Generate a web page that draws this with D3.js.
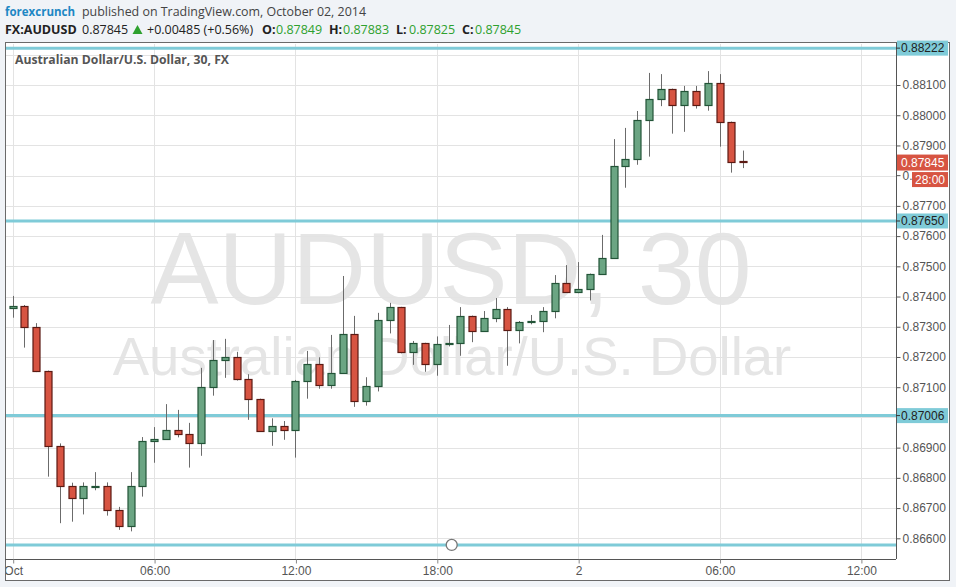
<!DOCTYPE html>
<html><head><meta charset="utf-8">
<script src="https://cdn.jsdelivr.net/npm/d3@7"></script>
<style>
html,body{margin:0;padding:0;background:#f0f3f7;}
svg{display:block;}
</style></head>
<body>
<svg id="c" width="956" height="587"></svg>
<script>
// ---- data (AUD/USD, 30-minute candles, from 1 Oct 2014 00:00) ----
const startTime = Date.UTC(2014, 9, 1, 0, 0);
const opens = [0.87361,0.87369,0.87298,0.87153,0.86904,0.86772,0.86732,0.86772,0.86772,0.86693,0.86640,0.86772,0.86921,0.86928,0.86957,0.86944,0.86914,0.87100,0.87189,0.87199,0.87126,0.87060,0.86954,0.86971,0.86957,0.87120,0.87176,0.87106,0.87146,0.87275,0.87053,0.87103,0.87321,0.87364,0.87215,0.87245,0.87176,0.87243,0.87245,0.87335,0.87285,0.87328,0.87358,0.87288,0.87315,0.87318,0.87351,0.87444,0.87414,0.87424,0.87474,0.87527,0.87831,0.87854,0.87983,0.88053,0.88086,0.88033,0.88079,0.88033,0.88106,0.87977,0.87849];
const highs = [0.87402,0.87372,0.87312,0.87155,0.86914,0.86784,0.86785,0.86819,0.86785,0.86704,0.86819,0.86935,0.86968,0.87044,0.87025,0.86982,0.87164,0.87256,0.87260,0.87217,0.87143,0.87062,0.86997,0.86988,0.87124,0.87220,0.87199,0.87273,0.87468,0.87336,0.87133,0.87346,0.87379,0.87366,0.87253,0.87247,0.87268,0.87306,0.87365,0.87337,0.87352,0.87395,0.87365,0.87319,0.87339,0.87365,0.87471,0.87504,0.87514,0.87476,0.87604,0.87921,0.87958,0.88014,0.88140,0.88136,0.88088,0.88097,0.88097,0.88146,0.88136,0.87979,0.87883];
const lows = [0.87330,0.87231,0.87150,0.86804,0.86650,0.86655,0.86679,0.86759,0.86675,0.86628,0.86623,0.86738,0.86850,0.86926,0.86934,0.86834,0.86873,0.87072,0.87131,0.87122,0.86992,0.86952,0.86906,0.86926,0.86867,0.87062,0.87095,0.87095,0.87144,0.87035,0.87039,0.87086,0.87278,0.87212,0.87174,0.87151,0.87138,0.87235,0.87204,0.87249,0.87283,0.87315,0.87171,0.87245,0.87308,0.87282,0.87328,0.87412,0.87411,0.87387,0.87472,0.87525,0.87760,0.87836,0.87863,0.88030,0.87939,0.87945,0.88022,0.88015,0.87896,0.87810,0.87825];
const closes = [0.87369,0.87298,0.87153,0.86904,0.86772,0.86732,0.86772,0.86773,0.86693,0.86640,0.86772,0.86921,0.86928,0.86957,0.86944,0.86914,0.87100,0.87189,0.87199,0.87126,0.87060,0.86954,0.86971,0.86957,0.87120,0.87176,0.87106,0.87146,0.87275,0.87053,0.87103,0.87321,0.87364,0.87215,0.87245,0.87176,0.87242,0.87245,0.87335,0.87285,0.87328,0.87358,0.87288,0.87315,0.87318,0.87351,0.87444,0.87414,0.87424,0.87474,0.87527,0.87831,0.87854,0.87983,0.88053,0.88086,0.88033,0.88079,0.88033,0.88106,0.87977,0.87844,0.87845];
const levelLines = [0.88222, 0.87650, 0.87006, 0.86578];
const levelLabels = ["0.88222", "0.87650", "0.87006", ""];
const yTickValues = [0.866,0.867,0.868,0.869,0.870,0.871,0.872,0.873,0.874,0.875,0.876,0.877,0.878,0.879,0.880,0.881,0.882];
const lastPrice = 0.87845;
const countdown = "28:00";
const headerTitle = "Australian Dollar/U.S. Dollar, 30, FX";
const watermark1 = "AUDUSD, 30";
const watermark2 = "Australian Dollar/U.S. Dollar";

const svg = d3.select("#c");
const plot = {l: 6, r: 896, t: 43, b: 559};
const panel = {l: 5, r: 949, t: 42, b: 580};

const bars = opens.map((o, i) => ({t: new Date(startTime + i * 30 * 60000), o, h: highs[i], l: lows[i], c: closes[i]}));

const x = d3.scaleUtc().domain([new Date(startTime), new Date(startTime + 36 * 3600000)]).range([12.7, 860.9]);
const y = d3.scaleLinear().domain([0.881, 0.866]).range([85, 538.3]);

// ---- header ----
const hdr = svg.append("g").attr("font-family", "'Open Sans', sans-serif");
hdr.append("text").attr("x", 5).attr("y", 16).attr("font-size", 13).attr("font-weight", 700).attr("fill", "#1d87c4")
  .attr("textLength", 70).attr("lengthAdjust", "spacingAndGlyphs").text("forexcrunch");
hdr.append("text").attr("x", 82).attr("y", 16).attr("font-size", 13).attr("fill", "#444")
  .attr("textLength", 284).attr("lengthAdjust", "spacingAndGlyphs").text("published on TradingView.com, October 02, 2014");
const l2 = [
  {x: 5, t: "FX:AUDUSD", b: true, c: "#222"},
  {x: 82, t: "0.87845", b: false, c: "#222"},
  {x: 147, t: "+0.00485 (+0.56%)", b: false, c: "#222"},
  {x: 262, t: "O:", b: true, c: "#222"},
  {x: 276, t: "0.87849", b: false, c: "#2ea12e"},
  {x: 329, t: "H:", b: true, c: "#222"},
  {x: 343, t: "0.87883", b: false, c: "#2ea12e"},
  {x: 396, t: "L:", b: true, c: "#222"},
  {x: 409, t: "0.87825", b: false, c: "#2ea12e"},
  {x: 462, t: "C:", b: true, c: "#222"},
  {x: 475, t: "0.87845", b: false, c: "#2ea12e"}
];
hdr.selectAll("text.l2").data(l2).join("text").attr("class", "l2")
  .attr("x", d => d.x).attr("y", 34).attr("font-size", 12.5)
  .attr("font-weight", d => d.b ? 700 : 400).attr("fill", d => d.c).text(d => d.t);
hdr.append("path").attr("d", "M132.5,34 L137.5,25 L142.5,34 Z").attr("fill", "#2ea12e");

// ---- panel ----
svg.append("rect").attr("x", panel.l + 0.5).attr("y", panel.t + 0.5)
  .attr("width", panel.r - panel.l).attr("height", panel.b - panel.t)
  .attr("fill", "#fff").attr("stroke", "#6a6a6a");

svg.append("defs").append("clipPath").attr("id", "pc").append("rect")
  .attr("x", plot.l).attr("y", plot.t + 1).attr("width", plot.r - plot.l).attr("height", plot.b - plot.t - 1);
svg.select("defs").append("clipPath").attr("id", "xc").append("rect")
  .attr("x", plot.l).attr("y", plot.b).attr("width", plot.r - plot.l).attr("height", panel.b - plot.b);

const gp = svg.append("g").attr("clip-path", "url(#pc)");

// watermark
gp.append("text").attr("x", 451).attr("y", 304).attr("text-anchor", "middle")
  .attr("font-family", "'Liberation Sans', Arial, sans-serif").attr("font-size", 102)
  .attr("fill", "#e5e5e5").text(watermark1);
gp.append("text").attr("x", 452).attr("y", 375).attr("text-anchor", "middle")
  .attr("font-family", "'Liberation Sans', Arial, sans-serif").attr("font-size", 54.5)
  .attr("fill", "#e5e5e5").text(watermark2);

// grid
const xTicks = x.ticks(d3.utcHour.every(6));
gp.selectAll("line.hg").data(yTickValues).join("line").attr("class", "hg")
  .attr("x1", plot.l).attr("x2", plot.r)
  .attr("y1", d => Math.round(y(d)) + 0.5).attr("y2", d => Math.round(y(d)) + 0.5)
  .attr("stroke", "#e3e3e3");
gp.selectAll("line.vg").data(xTicks).join("line").attr("class", "vg")
  .attr("y1", plot.t).attr("y2", plot.b)
  .attr("x1", d => Math.round(x(d)) + 0.5).attr("x2", d => Math.round(x(d)) + 0.5)
  .attr("stroke", "#e3e3e3");

// title
gp.append("text").attr("x", 15).attr("y", 64).attr("font-family", "'Open Sans', sans-serif")
  .attr("font-size", 12.5).attr("font-weight", 700).attr("fill", "#555")
  .attr("textLength", 214).attr("lengthAdjust", "spacingAndGlyphs").text(headerTitle);

// level lines
gp.selectAll("line.lv").data(levelLines).join("line").attr("class", "lv")
  .attr("x1", plot.l).attr("x2", plot.r)
  .attr("y1", d => y(d)).attr("y2", d => y(d))
  .attr("stroke", "#7fcbd8").attr("stroke-width", 3);
gp.append("circle").attr("cx", 451.7).attr("cy", y(levelLines[3])).attr("r", 5.5)
  .attr("fill", "#fff").attr("stroke", "#777").attr("stroke-width", 1.3);

// candles
const cg = gp.append("g");
const px = d => Math.round(x(d.t));
cg.selectAll("line.wick").data(bars).join("line").attr("class", "wick")
  .attr("x1", d => px(d) + 0.5).attr("x2", d => px(d) + 0.5)
  .attr("y1", d => y(d.h)).attr("y2", d => y(d.l))
  .attr("stroke", "#6b6b6b").attr("stroke-width", 1);
cg.selectAll("rect.body").data(bars).join("rect").attr("class", "body")
  .attr("x", d => px(d) - 3)
  .attr("width", 7)
  .attr("y", d => Math.round(y(Math.max(d.o, d.c))) + 0.5)
  .attr("height", d => Math.max(1, Math.round(Math.abs(y(d.o) - y(d.c)))))
  .attr("fill", d => d.c >= d.o ? "#6ba583" : "#d75442")
  .attr("stroke", d => d.c >= d.o ? "#225437" : "#5b1a13")
  .attr("stroke-width", 1.2);

// axis lines
svg.append("line").attr("x1", plot.r + 0.5).attr("x2", plot.r + 0.5).attr("y1", plot.t).attr("y2", plot.b)
  .attr("stroke", "#555");
svg.append("line").attr("x1", panel.l).attr("x2", plot.r).attr("y1", plot.b + 0.5).attr("y2", plot.b + 0.5)
  .attr("stroke", "#555");

// y axis (right); 0.87800 sits under the countdown box as in the original
const yAxis = d3.axisRight(y).tickValues(yTickValues.filter(v => v < 0.8815 && Math.abs(v - 0.878) > 1e-6))
  .tickFormat(d3.format(".5f")).tickSize(4).tickPadding(2);
const ya = svg.append("g").attr("transform", `translate(${plot.r + 0.5},0)`).call(yAxis);
ya.select(".domain").remove();
ya.selectAll("text").attr("font-family", "'Liberation Sans', Arial, sans-serif").attr("font-size", 12).attr("fill", "#555");
ya.selectAll("line").attr("stroke", "#555");
// partially hidden 0.87800 tick (only the leading "0." is visible beside the countdown box)
ya.append("line").attr("x1", 0).attr("x2", 4).attr("y1", y(0.878)).attr("y2", y(0.878)).attr("stroke", "#555");
ya.append("text").attr("x", 6).attr("y", y(0.878) + 4.3).attr("font-family", "'Liberation Sans', Arial, sans-serif")
  .attr("font-size", 12).attr("fill", "#555").text("0.");

// level labels
const lg = svg.append("g");
levelLines.forEach((v, i) => {
  if (!levelLabels[i]) return;
  const yy = y(v);
  lg.append("rect").attr("x", plot.r + 1).attr("y", yy - 7.5).attr("width", 51).attr("height", 15).attr("fill", "#7fcbd8");
  lg.append("line").attr("x1", plot.r).attr("x2", plot.r + 4).attr("y1", yy).attr("y2", yy).attr("stroke", "#333");
  lg.append("text").attr("x", plot.r + 5).attr("y", yy + 4.3).attr("font-family", "'Liberation Sans', Arial, sans-serif")
    .attr("font-size", 12).attr("fill", "#222").text(levelLabels[i]);
});
// last price label
const ly = y(lastPrice);
lg.append("rect").attr("x", plot.r + 1).attr("y", ly - 7.5).attr("width", 51).attr("height", 16).attr("fill", "#d75442");
lg.append("text").attr("x", plot.r + 5).attr("y", ly + 4.5).attr("font-family", "'Liberation Sans', Arial, sans-serif")
  .attr("font-size", 12).attr("fill", "#fff").text(d3.format(".5f")(lastPrice));
lg.append("rect").attr("x", 912).attr("y", ly + 10).attr("width", 36).attr("height", 15).attr("fill", "#d75442");
lg.append("text").attr("x", 930).attr("y", ly + 22).attr("text-anchor", "middle").attr("font-family", "'Liberation Sans', Arial, sans-serif")
  .attr("font-size", 12).attr("fill", "#fff").text(countdown);

// x axis
const fmt = d => d.getUTCHours() === 0 ? (d.getUTCDate() === 1 ? "Oct" : String(d.getUTCDate())) : d3.utcFormat("%H:%M")(d);
const xAxis = d3.axisBottom(x).tickValues(xTicks).tickFormat(fmt).tickSize(4).tickPadding(3);
const xa = svg.append("g").attr("clip-path", "url(#xc)").append("g").attr("transform", `translate(0.5,${plot.b + 0.5})`).call(xAxis);
xa.select(".domain").remove();
xa.selectAll("text").attr("font-family", "'Liberation Sans', Arial, sans-serif").attr("font-size", 12).attr("fill", "#555");
xa.selectAll("line").attr("stroke", "#888");
</script>
</body></html>
